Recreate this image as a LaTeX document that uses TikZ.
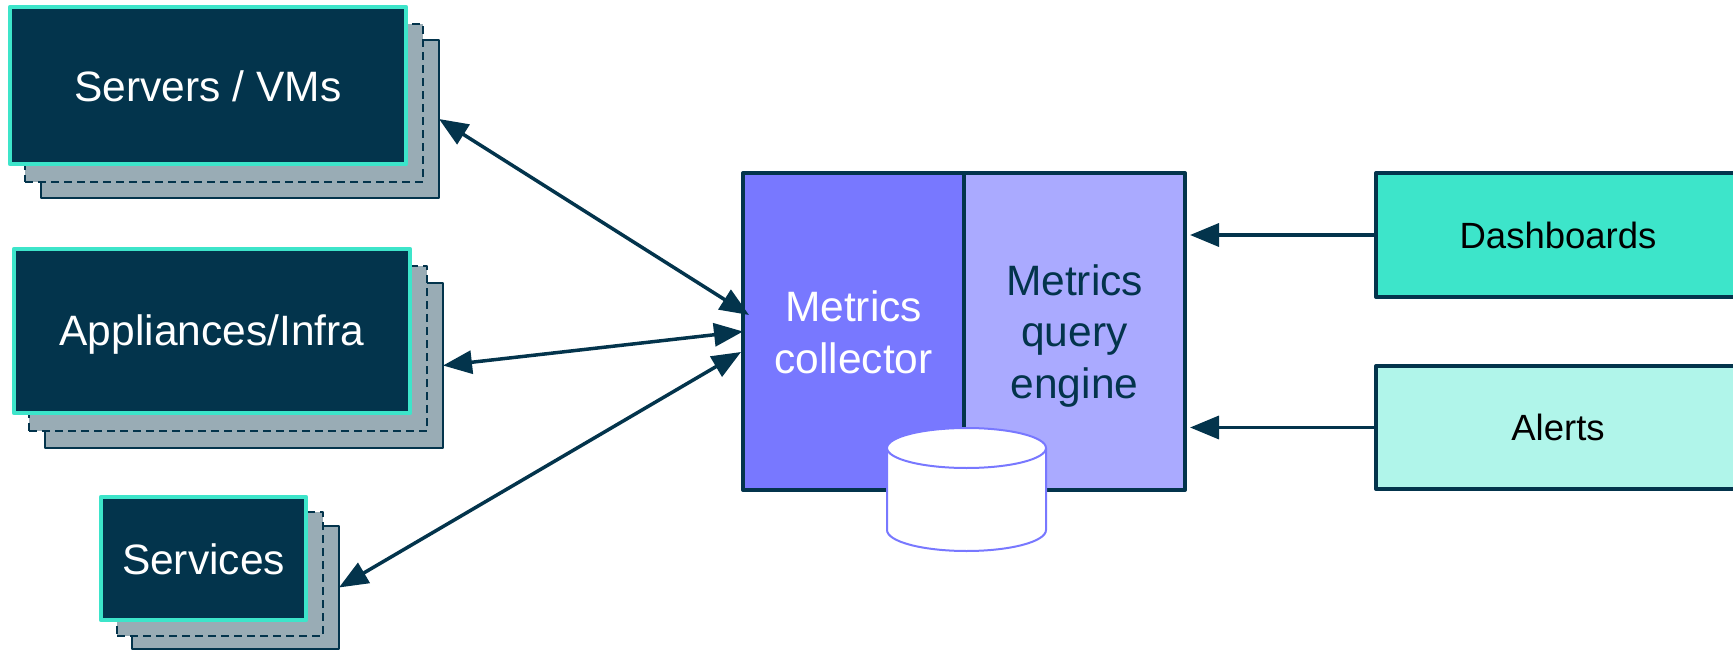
\documentclass[tikz,border=0pt]{standalone}
\usepackage{fontspec}
\setmainfont{Liberation Sans}
\usetikzlibrary{arrows.meta}
\definecolor{navy}{HTML}{03344C}
\definecolor{teal}{HTML}{3DE5CA}
\definecolor{paleteal}{HTML}{B0F5EA}
\definecolor{violet}{HTML}{7878FF}
\definecolor{paleviolet}{HTML}{AAAAFF}
\definecolor{slate}{HTML}{99ACB5}
\tikzset{
  card/.style={rectangle,inner sep=0pt,outer sep=0pt,line join=round},
  front/.style={card,draw=teal,fill=navy,line width=4.5pt,text=white},
  backdash/.style={card,draw=navy,fill=slate,line width=2.5pt,dash pattern=on 8pt off 5pt},
  backline/.style={card,draw=navy,fill=slate,line width=2.5pt},
  panel/.style={card,draw=navy,line width=4pt},
  bigtext/.style={font=\fontsize{42.5}{51.5}\selectfont,align=center},
  smalltext/.style={font=\fontsize{36.5}{44}\selectfont,text=black},
  store/.style={draw=violet,fill=white,line width=2pt},
  flow/.style={draw=navy,line width=3.5pt,{Triangle[length=29pt,width=23pt]}-{Triangle[length=29pt,width=23pt]}},
  oneflow/.style={draw=navy,line width=3.5pt,-{Triangle[length=29pt,width=23pt]}},
}
\begin{document}
\begin{tikzpicture}[x=1pt,y=-1pt]
\useasboundingbox (0,0) rectangle (1733,650);
%% servers stack
\node[backline,minimum width=398pt,minimum height=158pt] (servers3) at (240,119) {};
\node[backdash,minimum width=398pt,minimum height=158pt] (servers2) at (224,103) {};
\node[front,minimum width=396pt,minimum height=157pt] (servers) at (208,85.5) {};
\node[bigtext,text=white] (serverstext) at (208,86.5) {Servers / VMs};
%% appliances stack
\node[backline,minimum width=398pt,minimum height=165pt] (infra3) at (244,365.5) {};
\node[backdash,minimum width=398pt,minimum height=165pt] (infra2) at (228,348.5) {};
\node[front,minimum width=396pt,minimum height=164pt] (infra) at (212,331) {};
\node[bigtext,text=white] (infratext) at (212,335) {Appliances/Infra};
%% services stack
\node[backline,minimum width=207pt,minimum height=123pt] (services3) at (235.5,587.5) {};
\node[backdash,minimum width=206pt,minimum height=124pt] (services2) at (220,574) {};
\node[front,minimum width=205pt,minimum height=123pt] (services) at (203.5,558.5) {};
\node[bigtext,text=white] (servicestext) at (203.5,559.5) {Services};
%% middle
\node[panel,fill=violet,minimum width=221pt,minimum height=317pt] (collector) at (853.5,331.5) {};
\node[bigtext,text=white] (collectortext) at (853.5,332.5) {Metrics\\collector};
\node[panel,fill=paleviolet,minimum width=221pt,minimum height=317pt] (engine) at (1074.5,331.5) {};
\node[bigtext,text=navy] (enginetext) at (1074.5,336) {Metrics\\query\\engine};
%% database
\draw[store] (887,448) -- (887,530) arc[start angle=180,end angle=360,x radius=79.5pt,y radius=21pt] -- (1046,448);
\draw[store] (966.5,448) ellipse[x radius=79.5pt,y radius=20pt];
%% right side
\node[panel,smalltext,fill=teal,minimum width=364pt,minimum height=124pt] (dash) at (1558,235) {Dashboards};
\node[panel,smalltext,fill=paleteal,minimum width=364pt,minimum height=123pt] (alerts) at (1558,427.5) {Alerts};
%% connectors
\coordinate (collectorup) at (749,315);
\coordinate (collectordown) at (741,352);
\draw[flow] (servers3.east) -- (collectorup);
\draw[flow] (infra3.east) -- (collector.west);
\draw[flow] (services3.east) -- (collectordown);
\draw[oneflow] (dash.west) -- ([xshift=5pt]engine.east |- dash.west);
\draw[oneflow] (alerts.west) -- ([xshift=5pt]engine.east |- alerts.west);
\end{tikzpicture}
\end{document}
